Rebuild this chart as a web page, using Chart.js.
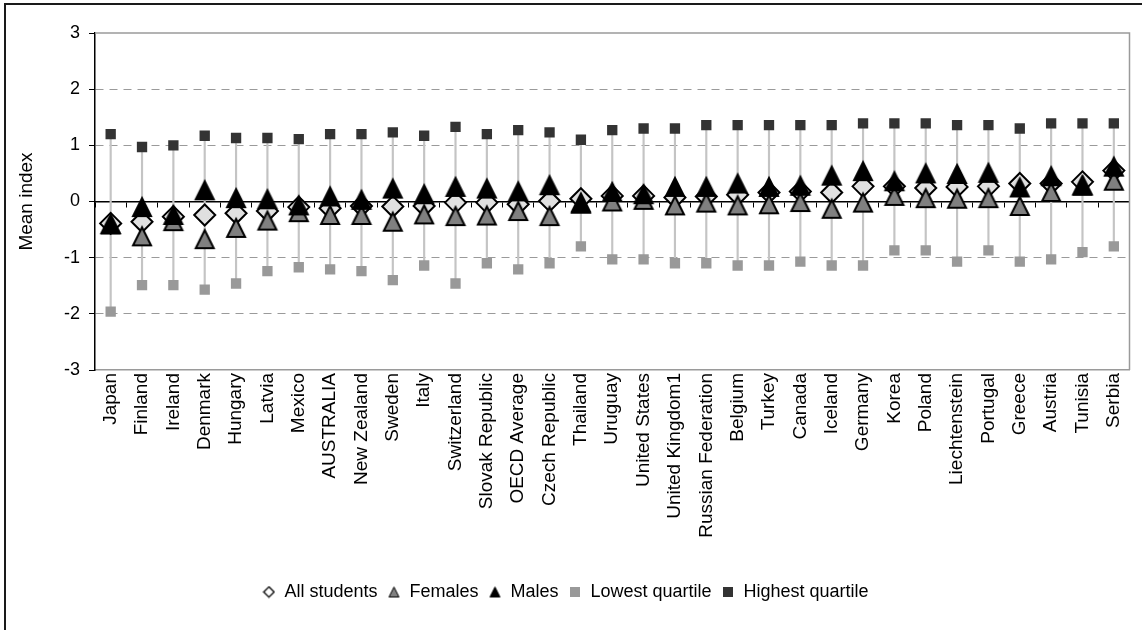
<!DOCTYPE html>
<html>
<head>
<meta charset="utf-8">
<title>Mean index by country</title>
<script src="https://cdn.jsdelivr.net/npm/chart.js@4/dist/chart.umd.min.js"></script>
<style>
  html, body { margin: 0; padding: 0; background: #fff; }
  #wrap { position: relative; width: 1142px; height: 630px; }
  #frame { position: absolute; left: 4px; top: 3px; right: -10px; bottom: -10px;
           border-left: 2px solid #1a1a1a; border-top: 2px solid #1a1a1a; pointer-events: none; }
</style>
</head>
<body>
<div id="wrap">
  <canvas id="chart" width="1142" height="630"></canvas>
  <div id="frame"></div>
</div>
<script>
// --- data ---
const countries = ["Japan", "Finland", "Ireland", "Denmark", "Hungary", "Latvia", "Mexico",
  "AUSTRALIA", "New Zealand", "Sweden", "Italy", "Switzerland", "Slovak Republic",
  "OECD Average", "Czech Republic", "Thailand", "Uruguay", "United States",
  "United Kingdom1", "Russian Federation", "Belgium", "Turkey", "Canada", "Iceland",
  "Germany", "Korea", "Poland", "Liechtenstein", "Portugal", "Greece", "Austria",
  "Tunisia", "Serbia"];

const allStudents = [-0.39, -0.36, -0.27, -0.24, -0.21, -0.17, -0.10, -0.12, -0.08, -0.09,
  -0.08, -0.02, -0.02, -0.05, 0.01, 0.05, 0.10, 0.10, 0.07, 0.09, 0.12, 0.16, 0.18,
  0.16, 0.27, 0.27, 0.24, 0.26, 0.27, 0.32, 0.32, 0.35, 0.55];

const females = [-0.41, -0.62, -0.35, -0.67, -0.47, -0.34, -0.19, -0.24, -0.24, -0.36,
  -0.23, -0.26, -0.25, -0.17, -0.26, -0.04, 0.00, 0.03, -0.07, -0.02, -0.07, -0.05, -0.01,
  -0.13, -0.02, 0.10, 0.06, 0.05, 0.06, -0.08, 0.17, 0.28, 0.37];

const males = [-0.40, -0.10, -0.24, 0.20, 0.06, 0.04, -0.07, 0.09, 0.03, 0.23,
  0.13, 0.26, 0.23, 0.18, 0.29, -0.02, 0.17, 0.13, 0.26, 0.26, 0.32, 0.26, 0.28,
  0.46, 0.54, 0.36, 0.50, 0.49, 0.51, 0.25, 0.45, 0.29, 0.62];

const lowestQuartile = [-1.96, -1.49, -1.49, -1.57, -1.46, -1.24, -1.17, -1.21, -1.24, -1.40,
  -1.14, -1.46, -1.10, -1.21, -1.10, -0.80, -1.03, -1.03, -1.10, -1.10, -1.14, -1.14, -1.07,
  -1.14, -1.14, -0.87, -0.87, -1.07, -0.87, -1.07, -1.03, -0.90, -0.80];

const highestQuartile = [1.20, 0.97, 1.00, 1.17, 1.13, 1.13, 1.11, 1.20, 1.20, 1.23,
  1.17, 1.33, 1.20, 1.27, 1.23, 1.10, 1.27, 1.30, 1.30, 1.36, 1.36, 1.36, 1.36,
  1.36, 1.39, 1.39, 1.39, 1.36, 1.36, 1.30, 1.39, 1.39, 1.39];

const yMin = -3;
const yMax = 3;

// --- marker images (Excel-like triangles, legend symbols) ---
function makeMarker(w, h, draw) {
  const c = document.createElement("canvas");
  c.width = w;
  c.height = h;
  draw(c.getContext("2d"), w, h);
  return c;
}

function triangle(w, h, pad, fill, lw) {
  return makeMarker(w, h, (g) => {
    g.beginPath();
    g.moveTo(w / 2, pad);
    g.lineTo(w - pad, h - pad);
    g.lineTo(pad, h - pad);
    g.closePath();
    g.fillStyle = fill;
    g.fill();
    g.lineWidth = lw;
    g.strokeStyle = "#000";
    g.stroke();
  });
}

function diamond(s, fill, lw) {
  return makeMarker(s, s, (g) => {
    const m = s / 2, r = s / 2 - lw;
    g.beginPath();
    g.moveTo(m, m - r);
    g.lineTo(m + r, m);
    g.lineTo(m, m + r);
    g.lineTo(m - r, m);
    g.closePath();
    g.fillStyle = fill;
    g.fill();
    g.lineWidth = lw;
    g.strokeStyle = "#000";
    g.stroke();
  });
}

function square(s, fill) {
  return makeMarker(s, s, (g) => {
    g.fillStyle = fill;
    g.fillRect(0, 0, s, s);
  });
}

const femaleTri = triangle(24, 24, 3, "#808080", 2);
const maleTri = triangle(24, 24, 3, "#000000", 2);

const legendIcons = [
  diamond(13, "#ffffff", 1.3),
  triangle(13, 13, 1.5, "#808080", 1),
  triangle(13, 13, 1.5, "#000000", 1),
  square(10, "#999999"),
  square(10, "#333333")
];

// top + right edge of the plot area
const plotFrame = {
  id: "plotFrame",
  beforeDatasetsDraw(chart) {
    const { ctx, chartArea: a } = chart;
    ctx.save();
    ctx.strokeStyle = "#9a9a9a";
    ctx.lineWidth = 1.5;
    ctx.beginPath();
    ctx.moveTo(a.left, a.top);
    ctx.lineTo(a.right, a.top);
    ctx.lineTo(a.right, a.bottom);
    ctx.stroke();
    ctx.restore();
  }
};

const FONT = "'Liberation Sans', Arial, sans-serif";

new Chart(document.getElementById("chart"), {
  type: "bar",
  data: {
    labels: countries,
    datasets: [
      {
        label: "range",
        data: lowestQuartile.map((lo, i) => [lo, highestQuartile[i]]),
        backgroundColor: "#c4c4c4",
        borderWidth: 0,
        barThickness: 1.5,
        order: 6
      },
      {
        type: "line",
        label: "All students",
        data: allStudents,
        showLine: false,
        pointStyle: "rectRot",
        pointRadius: 10.5,
        pointBackgroundColor: "#e0e0e0",
        pointBorderColor: "#000",
        pointBorderWidth: 2,
        order: 5
      },
      {
        type: "line",
        label: "Females",
        data: females,
        showLine: false,
        pointStyle: femaleTri,
        pointRadius: 10,
        order: 4
      },
      {
        type: "line",
        label: "Males",
        data: males,
        showLine: false,
        pointStyle: maleTri,
        pointRadius: 10,
        order: 3
      },
      {
        type: "line",
        label: "Lowest quartile",
        data: lowestQuartile,
        showLine: false,
        pointStyle: "rect",
        pointRadius: 7.3,
        pointBackgroundColor: "#999999",
        pointBorderWidth: 0,
        order: 2
      },
      {
        type: "line",
        label: "Highest quartile",
        data: highestQuartile,
        showLine: false,
        pointStyle: "rect",
        pointRadius: 7.3,
        pointBackgroundColor: "#333333",
        pointBorderWidth: 0,
        order: 1
      }
    ]
  },
  options: {
    responsive: false,
    animation: false,
    layout: { padding: { left: 0, right: 11, top: 33, bottom: 19 } },
    scales: {
      x: {
        type: "category",
        position: "bottom",
        offset: true,
        grid: { drawOnChartArea: false, drawTicks: false, offset: true },
        border: { color: "#9a9a9a", width: 1.5 },
        ticks: {
          autoSkip: false,
          maxRotation: 90,
          minRotation: 90,
          padding: 3,
          color: "#000",
          font: { family: FONT, size: 19 }
        },
        afterFit: (s) => {
          s.height = 203;
          s.paddingLeft = 0;
          s.paddingRight = 0;
        }
      },
      x0: {
        type: "category",
        position: { y: 0 },
        offset: true,
        grid: { drawOnChartArea: false, offset: true, tickLength: 5, tickColor: "#000", tickWidth: 1 },
        border: { color: "#000", width: 1.5 },
        ticks: { display: false }
      },
      y: {
        min: yMin,
        max: yMax,
        ticks: {
          stepSize: 1,
          padding: 9,
          color: "#000",
          font: { family: FONT, size: 18 }
        },
        grid: {
          color: (c) => (c.tick && Math.abs(c.tick.value) !== 3 && c.tick.value !== 0) ? "#9a9a9a" : "rgba(0,0,0,0)",
          lineWidth: 1,
          tickLength: 6,
          tickColor: "#000",
          tickWidth: 1
        },
        border: {
          color: "#000",
          width: 1.5,
          dash: (c) => (c.tick ? [8, 6] : [])
        },
        title: {
          display: true,
          text: "Mean index",
          color: "#000",
          font: { family: FONT, size: 19 },
          padding: { top: 15, bottom: 0 }
        },
        afterFit: (s) => { s.width = 95; }
      }
    },
    plugins: {
      tooltip: { enabled: false },
      legend: {
        position: "bottom",
        labels: {
          usePointStyle: true,
          boxWidth: 13,
          boxHeight: 13,
          pointStyleWidth: 13,
          padding: 10,
          color: "#000",
          font: { family: FONT, size: 18 },
          generateLabels: (chart) => chart.data.datasets.slice(1).map((ds, i) => ({
            text: ds.label,
            pointStyle: legendIcons[i],
            fillStyle: "#000",
            strokeStyle: "#000",
            lineWidth: 0,
            hidden: false,
            datasetIndex: i + 1
          }))
        }
      }
    }
  },
  plugins: [plotFrame]
});
</script>
</body>
</html>
